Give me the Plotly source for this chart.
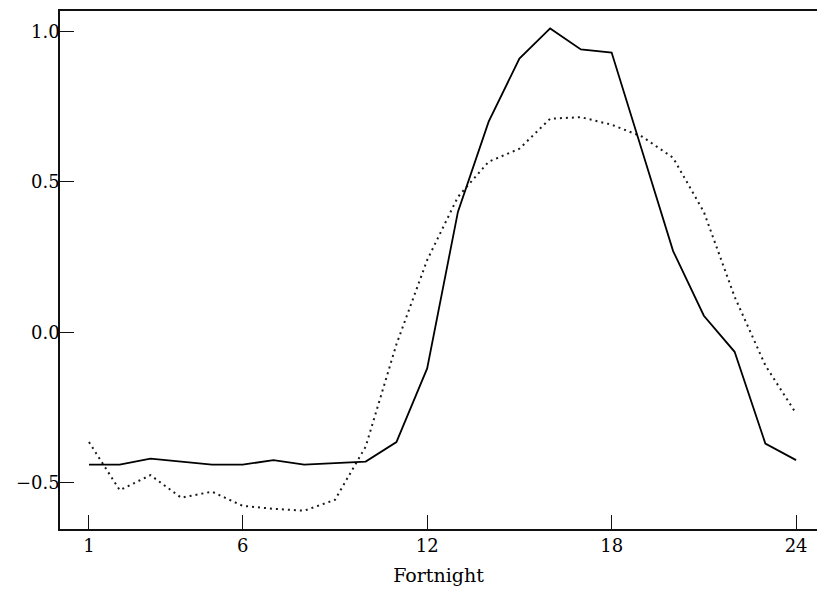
import plotly.graph_objects as go

# Fortnight index and the two series
fortnight = list(range(1, 25))
solid_series = [-0.44, -0.44, -0.42, -0.43, -0.44, -0.44, -0.425, -0.44, -0.435, -0.43,
                -0.365, -0.12, 0.40, 0.70, 0.91, 1.01, 0.94, 0.93, 0.60, 0.27,
                0.055, -0.065, -0.37, -0.425]
dotted_series = [-0.365, -0.525, -0.475, -0.55, -0.53, -0.577, -0.587, -0.593, -0.557, -0.38,
                 -0.04, 0.24, 0.45, 0.567, 0.61, 0.71, 0.715, 0.69, 0.65, 0.58,
                 0.40, 0.118, -0.11, -0.27]

x_ticks = [1, 6, 12, 18, 24]
y_ticks = [-0.5, 0.0, 0.5, 1.0]
y_tick_text = ["\u22120.5", "0.0", "0.5", "1.0"]

font_family = "DejaVu Serif"

fig = go.Figure()
fig.add_trace(go.Scatter(
    x=fortnight, y=dotted_series, mode="lines",
    line=dict(color="#1a1a1a", width=2, dash="2px,4px"),
    showlegend=False,
))
fig.add_trace(go.Scatter(
    x=fortnight, y=solid_series, mode="lines",
    line=dict(color="#000000", width=1.8),
    showlegend=False,
))

fig.update_layout(
    width=817, height=590,
    margin=dict(l=60, r=0, t=11, b=61),
    paper_bgcolor="white", plot_bgcolor="white",
    font=dict(family=font_family, size=18, color="#000000"),
    xaxis=dict(
        range=[0.057, 24.68], tickmode="array", tickvals=x_ticks,
        ticks="inside", ticklen=14, tickwidth=1, tickcolor="#111111",
        showline=True, linecolor="#111111", linewidth=1.5, mirror=True,
        showgrid=False, zeroline=False,
        title=dict(text="Fortnight", font=dict(family=font_family, size=19), standoff=13),
    ),
    yaxis=dict(
        range=[-0.654, 1.068], tickmode="array", tickvals=y_ticks, ticktext=y_tick_text,
        ticks="inside", ticklen=14, tickwidth=1, tickcolor="#111111",
        ticklabelstandoff=-5,
        showline=True, linecolor="#111111", linewidth=1.5, mirror=False,
        showgrid=False, zeroline=False,
    ),
)

fig.write_html("out.html")
